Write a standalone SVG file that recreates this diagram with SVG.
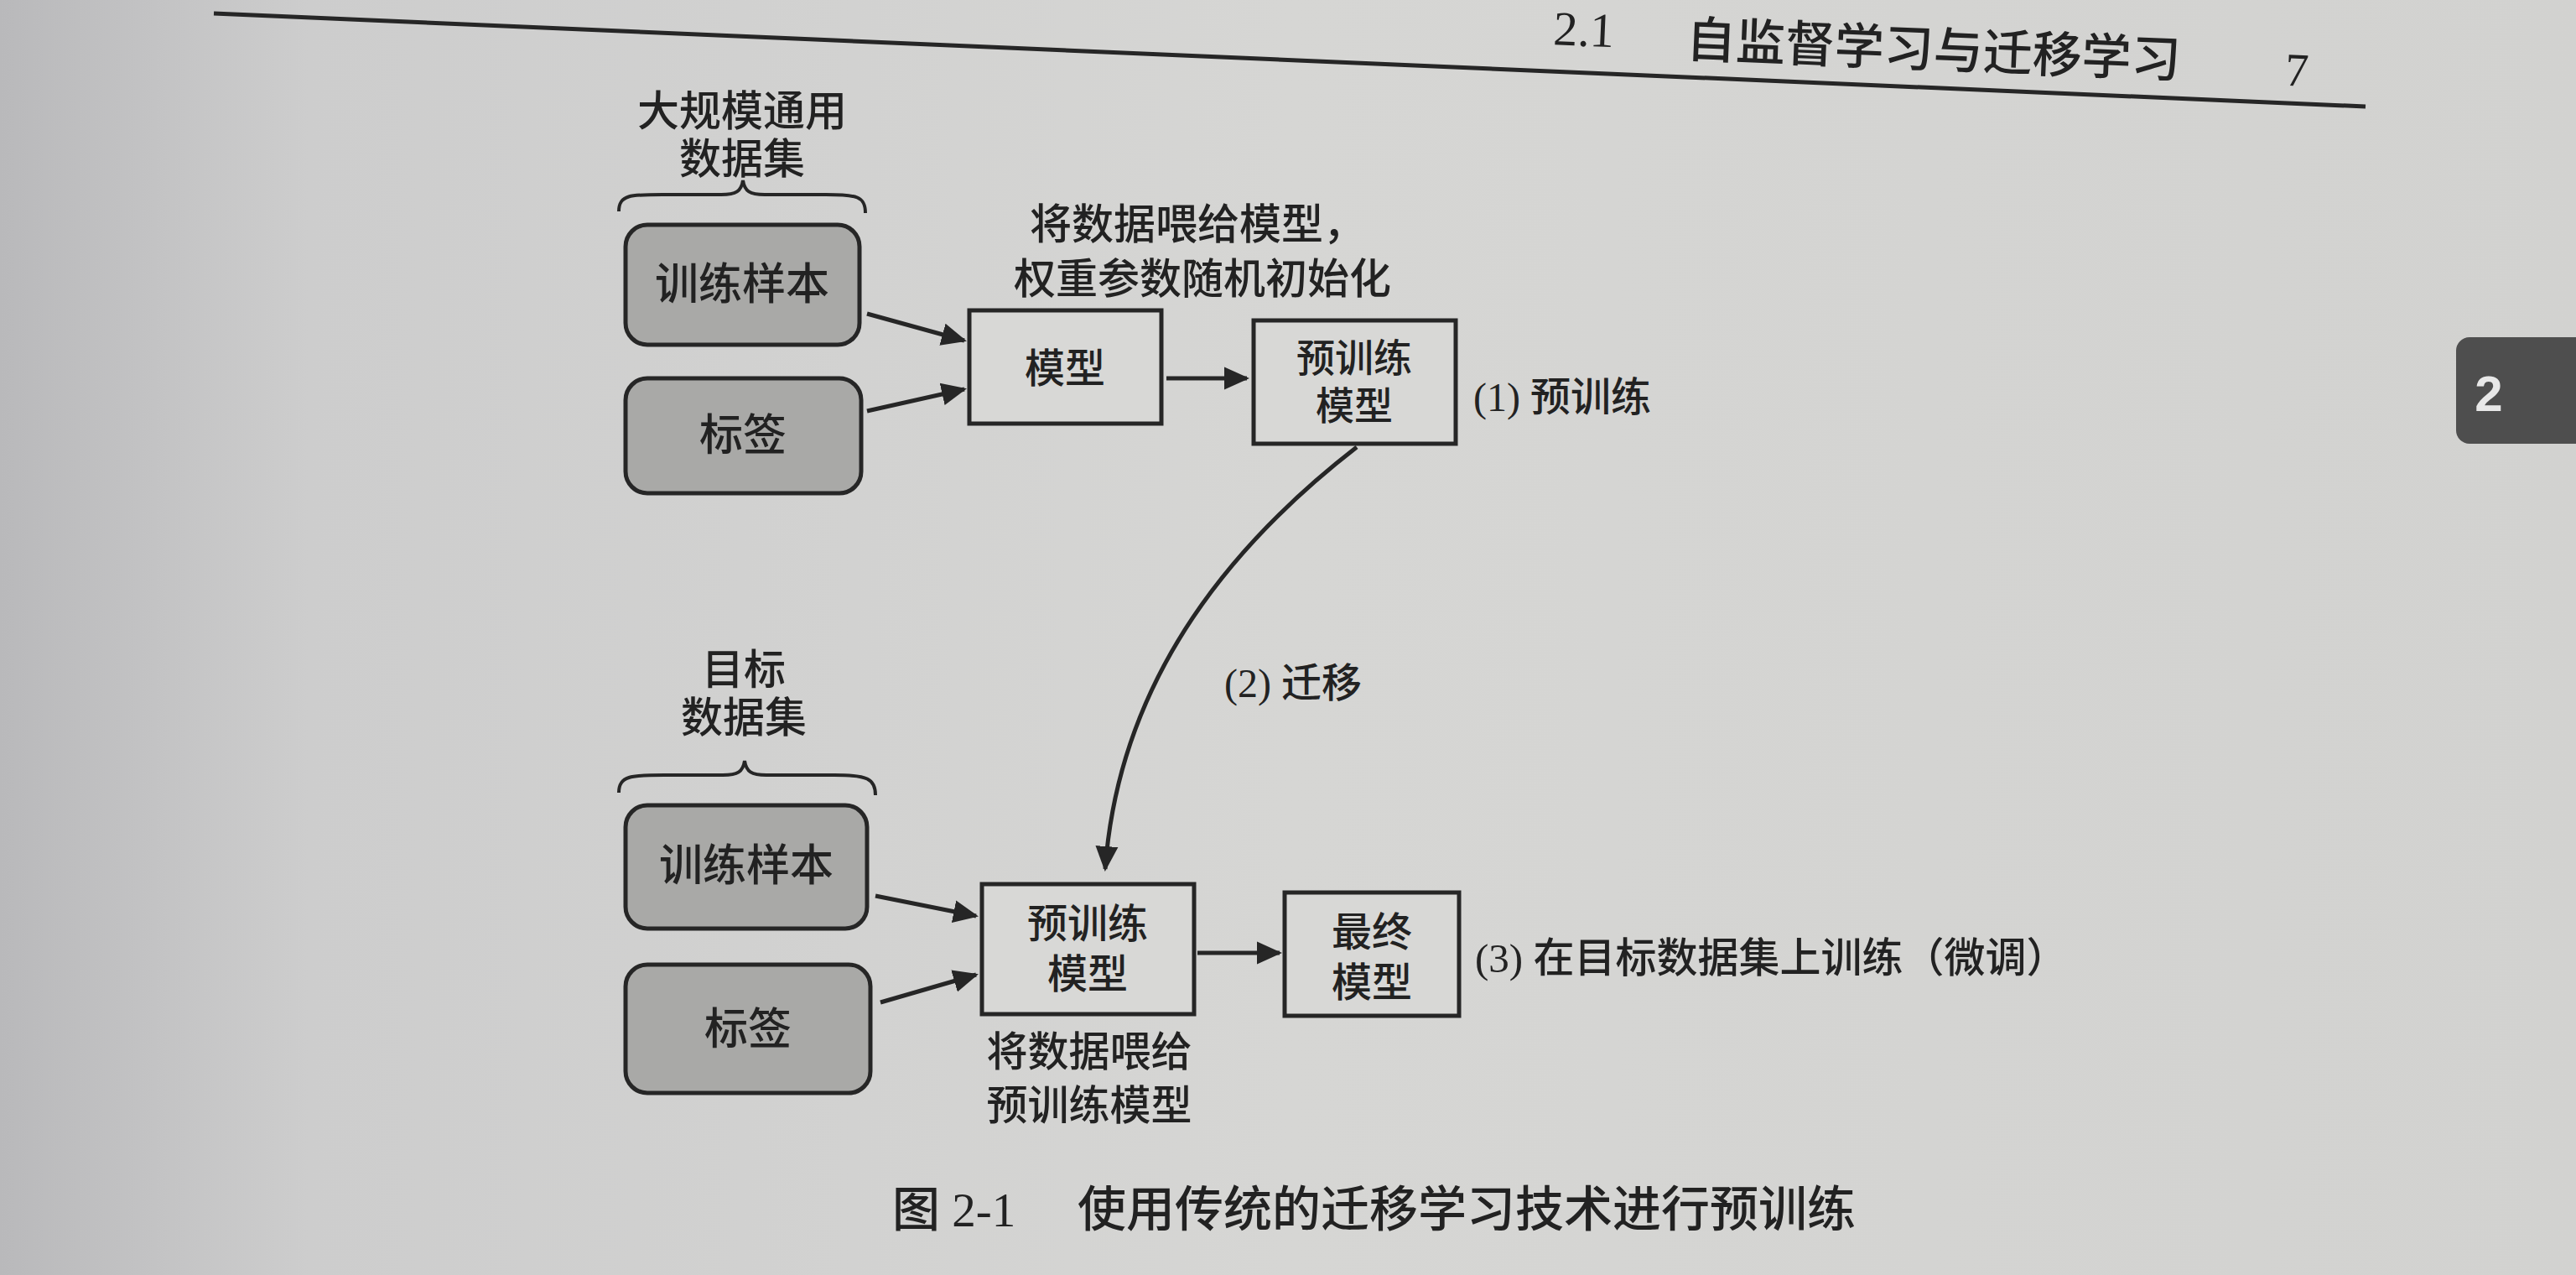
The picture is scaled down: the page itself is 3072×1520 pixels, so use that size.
<svg xmlns="http://www.w3.org/2000/svg" width="3072" height="1520" viewBox="0 0 3072 1520">
<defs>
<linearGradient id="bg" x1="0" y1="0" x2="1" y2="0">
<stop offset="0" stop-color="#b9b9bb"/>
<stop offset="0.12" stop-color="#cdcdcd"/>
<stop offset="0.5" stop-color="#d6d6d4"/>
<stop offset="1" stop-color="#d2d2d0"/>
</linearGradient>
<marker id="ah" viewBox="0 0 10 10" refX="9" refY="5" markerWidth="6" markerHeight="6" orient="auto" markerUnits="strokeWidth">
<path d="M0,0.5 L10,5 L0,9.5 z" fill="#262626"/>
</marker>
<style>
.t{font-family:"Liberation Serif","Noto Sans CJK SC",serif;fill:#222;font-weight:500;}
.c{text-anchor:middle;}
.gray{fill:#a9a9a7;stroke:#262626;stroke-width:5;}
.white{fill:#d8d8d6;stroke:#262626;stroke-width:5;}
.conn{stroke:#262626;stroke-width:5;fill:none;}
.brace{stroke:#262626;stroke-width:4;fill:none;}
</style>
</defs>
<rect width="3072" height="1520" fill="url(#bg)"/>

<g id="header">
<line x1="255" y1="16" x2="2821" y2="127" stroke="#262626" stroke-width="5"/>
<g transform="rotate(2.4 2300 80)">
<text class="t" x="1851" y="72" font-size="58">2.1</text>
<text class="t" x="2010" y="80" font-size="59">自监督学习与迁移学习</text>
<text class="t" x="2725" y="84" font-size="56">7</text>
</g>
</g>

<g id="tab">
<rect x="2929" y="402" width="180" height="127" rx="16" fill="#4e4e4e"/>
<text x="2968" y="490" font-family="Liberation Sans, sans-serif" font-weight="bold" font-size="60" fill="#e8e8e8" text-anchor="middle">2</text>
</g>

<g id="top-dataset-label">
<text class="t c" x="885" y="150" font-size="50">大规模通用</text>
<text class="t c" x="885" y="207" font-size="50">数据集</text>
<path class="brace" d="M738,252 C738,232 752,232 790,232 L860,232 C878,232 884,228 886,215 C888,228 894,232 912,232 L985,232 C1022,232 1032,234 1032,254"/>
</g>

<g id="top-samples">
<rect class="gray" x="746" y="268" width="279" height="143" rx="26"/>
<text class="t c" x="885" y="357" font-size="52">训练样本</text>
</g>
<g id="top-labels">
<rect class="gray" x="746" y="451" width="281" height="137" rx="26"/>
<text class="t c" x="886" y="537" font-size="52">标签</text>
</g>

<g id="top-feed-text">
<text class="t c" x="1428" y="285" font-size="50">将数据喂给模型，</text>
<text class="t c" x="1434" y="350" font-size="50">权重参数随机初始化</text>
</g>

<g id="model">
<rect class="white" x="1156" y="370" width="229" height="135"/>
<text class="t c" x="1270" y="456" font-size="48">模型</text>
</g>

<g id="pretrained-top">
<rect class="white" x="1495" y="382" width="241" height="147"/>
<text class="t c" x="1615" y="443" font-size="46">预训练</text>
<text class="t c" x="1615" y="500" font-size="46">模型</text>
</g>
<text class="t" x="1757" y="490" font-size="48">(1) 预训练</text>

<g id="bottom-dataset-label">
<text class="t c" x="887" y="816" font-size="50">目标</text>
<text class="t c" x="887" y="873" font-size="50">数据集</text>
<path class="brace" d="M738,945 C738,925 752,924 792,924 L862,924 C880,924 886,920 888,907 C890,920 896,924 914,924 L995,924 C1034,924 1044,928 1044,948"/>
</g>

<g id="bottom-samples">
<rect class="gray" x="746" y="960" width="288" height="147" rx="26"/>
<text class="t c" x="890" y="1050" font-size="52">训练样本</text>
</g>
<g id="bottom-labels">
<rect class="gray" x="746" y="1150" width="292" height="153" rx="26"/>
<text class="t c" x="892" y="1245" font-size="52">标签</text>
</g>

<g id="pretrained-bottom">
<rect class="white" x="1171" y="1054" width="253" height="155"/>
<text class="t c" x="1297" y="1118" font-size="48">预训练</text>
<text class="t c" x="1297" y="1178" font-size="48">模型</text>
</g>
<text class="t c" x="1299" y="1271" font-size="49">将数据喂给</text>
<text class="t c" x="1299" y="1335" font-size="49">预训练模型</text>

<g id="final-model">
<rect class="white" x="1532" y="1064" width="208" height="147"/>
<text class="t c" x="1636" y="1128" font-size="48">最终</text>
<text class="t c" x="1636" y="1188" font-size="48">模型</text>
</g>
<text class="t" x="1759" y="1159" font-size="49">(3) 在目标数据集上训练（微调）</text>

<text class="t" x="1460" y="831" font-size="48">(2) 迁移</text>

<g id="connectors">
<line class="conn" x1="1034" y1="374" x2="1150" y2="406" marker-end="url(#ah)"/>
<line class="conn" x1="1034" y1="490" x2="1150" y2="464" marker-end="url(#ah)"/>
<line class="conn" x1="1391" y1="451" x2="1487" y2="451" marker-end="url(#ah)"/>
<path class="conn" d="M1618,533 C1480,640 1335,800 1318,1036" marker-end="url(#ah)"/>
<line class="conn" x1="1044" y1="1068" x2="1164" y2="1092" marker-end="url(#ah)"/>
<line class="conn" x1="1050" y1="1195" x2="1164" y2="1162" marker-end="url(#ah)"/>
<line class="conn" x1="1428" y1="1136" x2="1526" y2="1136" marker-end="url(#ah)"/>
</g>

<text class="t" x="1064" y="1462" font-size="57">图 2-1</text>
<text class="t" x="1285" y="1462" font-size="58">使用传统的迁移学习技术进行预训练</text>
</svg>
